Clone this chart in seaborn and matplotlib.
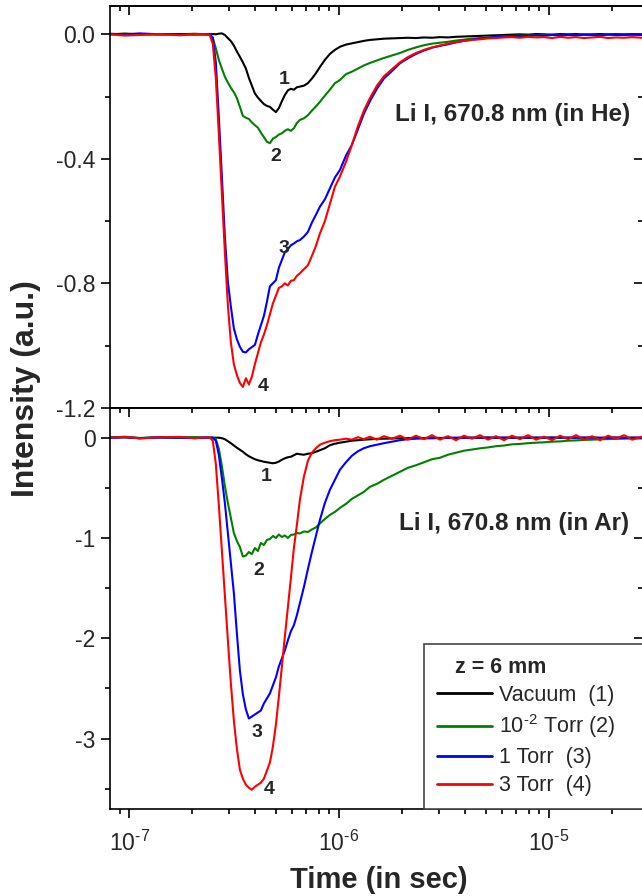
import matplotlib
matplotlib.use("Agg")
import numpy as np
import matplotlib.pyplot as plt
import pandas as pd
import seaborn as sns
from matplotlib.ticker import (MultipleLocator, FormatStrFormatter, LogLocator,
                               NullFormatter, FuncFormatter)

# ---- data -------------------------------------------------------------
# sampling times (s), shared by all eight transients
time_s = [
    8.08e-8, 9.53e-8, 1.123e-7, 1.399e-7, 1.743e-7, 2.055e-7, 2.294e-7,
    2.423e-7, 2.504e-7, 2.588e-7, 2.675e-7, 2.765e-7, 2.858e-7, 2.954e-7, 3.053e-7,
    3.155e-7, 3.261e-7, 3.370e-7, 3.483e-7, 3.600e-7, 3.720e-7, 3.844e-7, 3.973e-7,
    4.106e-7, 4.243e-7, 4.386e-7, 4.533e-7, 4.684e-7, 4.841e-7, 5.003e-7, 5.170e-7,
    5.343e-7, 5.522e-7, 5.707e-7, 5.898e-7, 6.095e-7, 6.299e-7, 6.510e-7,
    6.802e-7, 7.108e-7, 7.427e-7, 7.761e-7, 8.110e-7, 8.567e-7, 9.049e-7, 9.561e-7, 1.010e-6,
    1.079e-6, 1.152e-6, 1.231e-6, 1.314e-6, 1.404e-6, 1.516e-6, 1.637e-6, 1.788e-6, 1.952e-6,
    2.131e-6, 2.327e-6, 2.540e-6, 2.773e-6, 3.028e-6, 3.306e-6, 3.609e-6, 3.940e-6,
    4.302e-6, 4.697e-6, 5.129e-6, 5.600e-6, 6.114e-6, 6.675e-6, 7.288e-6, 7.957e-6,
    8.688e-6, 9.486e-6, 1.036e-5, 1.131e-5, 1.235e-5, 1.348e-5, 1.472e-5, 1.607e-5,
    1.754e-5, 1.915e-5, 2.091e-5, 2.283e-5, 2.493e-5,
    2.782e-5,
]

# Li I 670.8 nm emission in He
he_vacuum = [
    0.000, 0.002, 0.000, 0.001, 0.000, 0.001, 0.000,
    0.000, 0.001, 0.000, 0.002, 0.003, -0.002, -0.012, -0.022, -0.036, -0.055, -0.072,
    -0.090, -0.110, -0.140, -0.165, -0.190, -0.203, -0.214, -0.224, -0.230, -0.233,
    -0.242, -0.250, -0.237, -0.215, -0.195, -0.180, -0.175, -0.178, -0.170, -0.168,
    -0.165, -0.157, -0.142, -0.125, -0.105, -0.082, -0.063, -0.050, -0.040,
    -0.033, -0.029, -0.025, -0.021, -0.018, -0.016, -0.014, -0.013, -0.012,
    -0.011, -0.012, -0.010, -0.011, -0.009, -0.010, -0.008, -0.007, -0.006, -0.005,
    -0.004, -0.003, -0.002, -0.001, 0.000, -0.001, 0.001, 0.000, -0.001, 0.001,
    0.000, 0.001, -0.001, 0.000, 0.001, 0.000, 0.001, 0.000, 0.001,
    0.000,
]
he_1e2torr = [
    0.000, 0.002, 0.000, -0.001, 0.000, 0.002, 0.000,
    -0.002, -0.012, -0.045, -0.082, -0.110, -0.136, -0.155, -0.172, -0.186, -0.205,
    -0.233, -0.262, -0.268, -0.272, -0.283, -0.292, -0.300, -0.316, -0.330, -0.345,
    -0.350, -0.335, -0.330, -0.322, -0.318, -0.310, -0.305, -0.310, -0.302, -0.285, -0.275,
    -0.270, -0.260, -0.245, -0.232, -0.217, -0.197, -0.178, -0.157, -0.147,
    -0.128, -0.120, -0.110, -0.100, -0.092, -0.084, -0.076, -0.068, -0.060,
    -0.050, -0.042, -0.035, -0.030, -0.027, -0.024, -0.020, -0.017, -0.014, -0.012,
    -0.010, -0.008, -0.006, -0.005, -0.004, -0.004, -0.003, -0.003, -0.002, -0.002,
    -0.001, -0.002, 0.000, -0.001, -0.002, 0.000, -0.001, 0.000, -0.001,
    0.000,
]
he_1torr = [
    0.002, 0.000, 0.003, 0.000, 0.001, -0.001, 0.000,
    0.000, -0.010, -0.090, -0.265, -0.455, -0.650, -0.795, -0.875, -0.945, -0.980,
    -1.004, -1.020, -1.022, -1.012, -1.005, -0.998, -0.965, -0.935, -0.905, -0.860,
    -0.810, -0.800, -0.790, -0.750, -0.725, -0.700, -0.690, -0.678, -0.672, -0.665, -0.661,
    -0.650, -0.635, -0.605, -0.580, -0.554, -0.530, -0.495, -0.460, -0.436,
    -0.390, -0.355, -0.305, -0.255, -0.215, -0.175, -0.142, -0.118, -0.093,
    -0.077, -0.063, -0.052, -0.043, -0.037, -0.032, -0.026, -0.021, -0.017, -0.014,
    -0.011, -0.009, -0.007, -0.006, -0.005, -0.005, -0.003, -0.004, -0.002, -0.003,
    -0.002, -0.003, -0.001, -0.002, -0.003, -0.001, -0.002, -0.002, -0.001,
    -0.002,
]
he_3torr = [
    0.000, -0.004, -0.002, 0.001, -0.003, 0.000, 0.001,
    -0.003, -0.030, -0.140, -0.320, -0.510, -0.700, -0.870, -0.990, -1.060, -1.095,
    -1.120, -1.133, -1.105, -1.125, -1.100, -1.060, -1.025, -0.990, -0.965, -0.935,
    -0.900, -0.865, -0.840, -0.815, -0.810, -0.800, -0.807, -0.792, -0.790, -0.776, -0.768,
    -0.755, -0.742, -0.712, -0.680, -0.640, -0.600, -0.545, -0.490, -0.457,
    -0.410, -0.355, -0.295, -0.245, -0.205, -0.165, -0.135, -0.112, -0.090,
    -0.073, -0.060, -0.050, -0.042, -0.036, -0.030, -0.025, -0.021, -0.018, -0.016,
    -0.013, -0.012, -0.010, -0.009, -0.011, -0.008, -0.010, -0.009, -0.012, -0.008,
    -0.011, -0.009, -0.012, -0.010, -0.008, -0.012, -0.010, -0.011, -0.009,
    -0.011,
]

# Li I 670.8 nm emission in Ar
ar_vacuum = [
    0.000, 0.004, -0.003, 0.002, 0.000, 0.003, 0.000,
    0.000, 0.000, 0.000, 0.000, -0.005, -0.015, -0.035, -0.055, -0.078, -0.100,
    -0.120, -0.140, -0.165, -0.185, -0.200, -0.215, -0.225, -0.232, -0.240, -0.245,
    -0.250, -0.255, -0.250, -0.238, -0.220, -0.205, -0.195, -0.190, -0.175, -0.160, -0.165,
    -0.170, -0.160, -0.155, -0.140, -0.125, -0.105, -0.075, -0.060, -0.050,
    -0.040, -0.030, -0.025, -0.020, -0.016, -0.012, -0.010, -0.008, -0.006,
    -0.005, 0.000, -0.004, 0.002, -0.003, 0.000, -0.002, 0.003, -0.001, 0.000,
    0.002, -0.002, 0.001, 0.000, -0.002, 0.002, 0.000, -0.001, 0.002, 0.000,
    -0.002, 0.001, 0.000, 0.002, -0.001, 0.000, 0.001, -0.002, 0.000,
    0.000,
]
ar_1e2torr = [
    0.002, 0.006, -0.004, 0.003, 0.000, 0.004, -0.002,
    0.000, 0.000, -0.015, -0.110, -0.280, -0.480, -0.650, -0.800, -0.950, -1.030,
    -1.090, -1.185, -1.175, -1.140, -1.160, -1.100, -1.130, -1.050, -1.070, -1.020,
    -1.010, -0.980, -1.000, -0.965, -0.990, -0.975, -1.000, -0.970, -0.965, -0.950, -0.955,
    -0.935, -0.940, -0.915, -0.895, -0.855, -0.810, -0.770, -0.740, -0.700,
    -0.660, -0.610, -0.575, -0.540, -0.490, -0.460, -0.420, -0.380, -0.340,
    -0.300, -0.275, -0.245, -0.215, -0.200, -0.170, -0.150, -0.130, -0.118, -0.106,
    -0.097, -0.085, -0.078, -0.066, -0.062, -0.055, -0.050, -0.046, -0.040, -0.037,
    -0.030, -0.027, -0.022, -0.020, -0.016, -0.014, -0.012, -0.010, -0.008,
    -0.008,
]
ar_1torr = [
    0.000, 0.005, -0.005, 0.003, 0.000, -0.004, 0.002,
    0.000, 0.000, -0.030, -0.170, -0.400, -0.650, -0.950, -1.250, -1.550, -1.950,
    -2.320, -2.560, -2.710, -2.800, -2.780, -2.760, -2.740, -2.720, -2.650, -2.600,
    -2.550, -2.470, -2.390, -2.280, -2.200, -2.120, -2.020, -1.930, -1.870, -1.770, -1.650,
    -1.490, -1.310, -1.140, -0.980, -0.820, -0.650, -0.520, -0.420, -0.320,
    -0.245, -0.180, -0.135, -0.105, -0.085, -0.070, -0.055, -0.040, -0.025,
    -0.015, -0.010, -0.007, -0.006, -0.004, -0.003, -0.001, -0.002, 0.001, -0.001,
    0.000, 0.002, -0.001, 0.000, 0.001, -0.002, 0.000, 0.001, -0.001, 0.000,
    0.002, -0.001, 0.000, 0.001, -0.002, 0.000, 0.001, -0.001, 0.000,
    0.000,
]
ar_3torr = [
    0.000, 0.010, -0.008, 0.004, 0.008, -0.006, 0.002,
    0.000, -0.030, -0.260, -0.670, -1.120, -1.570, -2.020, -2.450, -2.820, -3.100,
    -3.310, -3.400, -3.460, -3.490, -3.510, -3.480, -3.460, -3.440, -3.400, -3.320,
    -3.240, -3.080, -2.860, -2.580, -2.280, -1.980, -1.690, -1.400, -1.100, -0.870, -0.620,
    -0.390, -0.230, -0.150, -0.105, -0.070, -0.050, -0.035, -0.025, -0.020,
    -0.010, -0.020, 0.005, -0.015, 0.010, -0.020, 0.015, -0.010, 0.020,
    -0.020, 0.020, -0.015, 0.025, -0.020, 0.015, -0.025, 0.020, -0.010, 0.025,
    -0.020, 0.015, -0.025, 0.020, -0.015, 0.025, -0.020, 0.010, -0.025, 0.020,
    -0.015, 0.025, -0.020, 0.015, -0.025, 0.020, -0.010, 0.025, -0.020,
    0.010,
]

series_labels = ["Vacuum  (1)", r"10$^{\text{-2}}$ Torr (2)", "1 Torr  (3)", "3 Torr  (4)"]
series_colors = ["#000000", "#008000", "#0000ff", "#ff0000"]
curve_tags = ["1", "2", "3", "4"]

# positions of the curve numbers (time, intensity)
he_tag_time = [5.46e-7, 5.00e-7, 5.46e-7, 4.33e-7]
he_tag_value = [-0.145, -0.394, -0.687, -1.130]
ar_tag_time = [4.48e-7, 4.15e-7, 4.07e-7, 4.64e-7]
ar_tag_value = [-0.39, -1.32, -2.94, -3.51]

# ---- style ------------------------------------------------------------
sns.set_theme(style="ticks")
plt.rcParams["font.family"] = ["Liberation Sans", "DejaVu Sans"]
plt.rcParams["mathtext.fontset"] = "custom"
plt.rcParams["mathtext.rm"] = "Liberation Sans"
plt.rcParams["mathtext.it"] = "Liberation Sans:italic"
plt.rcParams["mathtext.bf"] = "Liberation Sans:bold"
plt.rcParams["axes.unicode_minus"] = False

TICK_FS = 16.5
SPINE_W = 1.2


def long_table(columns):
    frames = [pd.DataFrame({"time": time_s, "intensity": vals, "series": lab})
              for lab, vals in zip(series_labels, columns)]
    return pd.concat(frames, ignore_index=True)


def decade_label(value, pos):
    exponent = int(round(np.log10(value)))
    sign = "-" if exponent < 0 else ""
    return r"10$^{\text{%s%d}}$" % (sign, abs(exponent))


fig = plt.figure(figsize=(6.42, 8.96), dpi=100)
left, width = 0.1709, 0.8307
mid, top, bottom = 0.54487, 0.99330, 0.09710
ax_he = fig.add_axes([left, mid, width, top - mid])
ax_ar = fig.add_axes([left, bottom, width, mid - bottom], sharex=ax_he)

panels = [
    (ax_he, [he_vacuum, he_1e2torr, he_1torr, he_3torr], (-1.2, 0.091), 0.4, 0.2, "%.1f",
     he_tag_time, he_tag_value, "Li I, 670.8 nm (in He)", (1.848e-6, -0.259)),
    (ax_ar, [ar_vacuum, ar_1e2torr, ar_1torr, ar_3torr], (-3.702, 0.298), 1.0, 0.5, "%g",
     ar_tag_time, ar_tag_value, "Li I, 670.8 nm (in Ar)", (1.93e-6, -0.86)),
]

for ax, cols, ylim, ymaj, ymin, fmt, tag_t, tag_v, title, title_xy in panels:
    sns.lineplot(data=long_table(cols), x="time", y="intensity", hue="series",
                 hue_order=series_labels, palette=series_colors, estimator=None,
                 sort=False, lw=1.5, legend=False, ax=ax)
    ax.set_xscale("log")
    ax.set_xlim(8.08e-8, 2.81e-5)
    ax.set_ylim(*ylim)
    ax.set_xlabel("")
    ax.set_ylabel("")
    ax.xaxis.set_major_locator(LogLocator(base=10, numticks=15))
    ax.xaxis.set_minor_locator(LogLocator(base=10, subs=range(2, 10), numticks=15))
    ax.xaxis.set_major_formatter(FuncFormatter(decade_label))
    ax.xaxis.set_minor_formatter(NullFormatter())
    ax.yaxis.set_major_locator(MultipleLocator(ymaj))
    ax.yaxis.set_minor_locator(MultipleLocator(ymin))
    ax.yaxis.set_major_formatter(FormatStrFormatter(fmt))
    ax.tick_params(which="both", direction="out", top=False, right=False,
                   labelsize=TICK_FS, color="black", width=SPINE_W, pad=4)
    ax.tick_params(which="major", length=6.3)
    ax.tick_params(which="minor", length=3.3)
    ax.tick_params(axis="x", pad=9)
    for sp in ax.spines.values():
        sp.set_visible(True)
        sp.set_linewidth(SPINE_W)
        sp.set_color("black")

    # mirrored inward ticks on top and right
    sx = ax.secondary_xaxis("top")
    sx.xaxis.set_major_locator(LogLocator(base=10, numticks=15))
    sx.xaxis.set_minor_locator(LogLocator(base=10, subs=range(2, 10), numticks=15))
    sx.tick_params(which="both", direction="in", labeltop=False, width=SPINE_W, color="black")
    sx.tick_params(which="major", length=6.3)
    sx.tick_params(which="minor", length=3.3)
    sy = ax.secondary_yaxis("right")
    sy.yaxis.set_major_locator(MultipleLocator(ymaj))
    sy.yaxis.set_minor_locator(MultipleLocator(ymin))
    sy.tick_params(which="both", direction="in", labelright=False, width=SPINE_W, color="black")
    sy.tick_params(which="major", length=6.3)
    sy.tick_params(which="minor", length=3.3)
    for sec in (sx, sy):
        for sp in sec.spines.values():
            sp.set_linewidth(SPINE_W)
            sp.set_color("black")

    for tag, t, v in zip(curve_tags, tag_t, tag_v):
        ax.text(t, v, tag, fontsize=14, fontweight="bold", ha="center", va="center")
    ax.text(title_xy[0], title_xy[1], title, fontsize=17.5, fontweight="bold",
            ha="left", va="center")

ax_he.tick_params(labelbottom=False)

legend = ax_ar.legend(
    handles=ax_ar.get_lines()[:4], labels=series_labels, title="   z = 6 mm",
    loc="lower left", bbox_to_anchor=(0.5894, 0.0, 0.6, 0.5), mode="expand",
    borderaxespad=0.0, frameon=True, fancybox=False, framealpha=1.0,
    edgecolor="#444444", fontsize=15.5,
    title_fontproperties={"weight": "bold", "size": 15.5},
    handlelength=2.55, handletextpad=0.35, labelspacing=0.32, borderpad=0.6,
    alignment="left",
)
legend.get_frame().set_linewidth(1.2)
for line in legend.get_lines():
    line.set_linewidth(2.0)

fig.text(26 / 642, 1 - 389 / 896, "Intensity (a.u.)", rotation=90, ha="center",
         va="center", fontsize=23, fontweight="bold")
fig.text(379 / 642, 1 - 880 / 896, "Time (in sec)", ha="center", va="center",
         fontsize=21, fontweight="bold")

fig.savefig("out.png", dpi=100)
